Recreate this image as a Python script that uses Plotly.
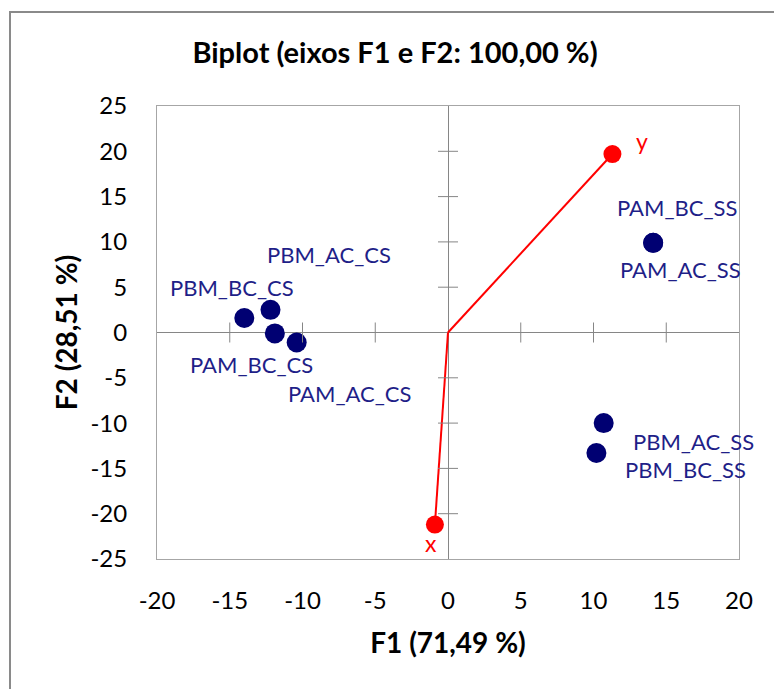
import plotly.graph_objects as go

# Observations (scores on F1/F2)
obs_names = ["PBM_BC_CS", "PBM_AC_CS", "PAM_BC_CS", "PAM_AC_CS",
             "PAM_BC_SS", "PAM_AC_SS", "PBM_AC_SS", "PBM_BC_SS"]
obs_f1 = [-14.0, -12.2, -11.9, -10.4, 14.1, 14.1, 10.7, 10.2]
obs_f2 = [1.6, 2.5, -0.1, -1.1, 9.9, 9.9, -10.0, -13.3]

# Variables (loadings drawn as vectors from the origin)
var_names = ["x", "y"]
var_f1 = [-0.9, 11.3]
var_f2 = [-21.2, 19.7]

x_ticks = [-20, -15, -10, -5, 0, 5, 10, 15, 20]
y_ticks = [-25, -20, -15, -10, -5, 0, 5, 10, 15, 20, 25]

title_text = "Biplot (eixos F1 e F2: 100,00 %)"
x_title = "F1 (71,49 %)"
y_title = "F2 (28,51 %)"

# label offsets in pixels (dx, dy) for each observation / variable label
obs_label_offsets = [(-12, 31), (59, 55), (-23, -31), (53, -51),
                     (24, 35), (27, -27), (90, -18), (89, -16)]
var_label_offsets = [(-4, -18), (30, 13)]

FONT = "Lato"
NAVY = "#000072"
LABEL_NAVY = "#1f1f88"
RED = "#ff0000"
AXIS_GRAY = "#868686"

W, H = 774, 689
ML, MR, MT, MB = 157, 35, 106, 130

fig = go.Figure()

# variable vectors
for i in range(len(var_names)):
    fig.add_trace(go.Scatter(
        x=[0, var_f1[i]], y=[0, var_f2[i]], mode="lines",
        line=dict(color=RED, width=2), hoverinfo="skip", showlegend=False))

fig.add_trace(go.Scatter(
    x=var_f1, y=var_f2, mode="markers", text=var_names,
    marker=dict(color=RED, size=18), showlegend=False))

fig.add_trace(go.Scatter(
    x=obs_f1, y=obs_f2, mode="markers", text=obs_names,
    marker=dict(color=NAVY, size=20), showlegend=False))

annotations = []
for name, fx, fy, (dx, dy) in zip(obs_names, obs_f1, obs_f2, obs_label_offsets):
    annotations.append(dict(
        x=fx, y=fy, xref="x", yref="y", text=name, showarrow=False,
        xshift=dx, yshift=dy, font=dict(family=FONT, size=22, color=LABEL_NAVY)))
for name, fx, fy, (dx, dy) in zip(var_names, var_f1, var_f2, var_label_offsets):
    annotations.append(dict(
        x=fx, y=fy, xref="x", yref="y", text=name, showarrow=False,
        xshift=dx, yshift=dy, font=dict(family=FONT, size=23, color=RED)))

shapes = []
# cross tick marks along the zero axes
for v in x_ticks:
    if v in (0, x_ticks[0], x_ticks[-1]):
        continue
    shapes.append(dict(type="line", xref="x", yref="y", x0=v, x1=v,
                       ysizemode="pixel", yanchor=0, y0=-10, y1=10,
                       line=dict(color=AXIS_GRAY, width=1)))
for v in y_ticks:
    if v in (0, y_ticks[0], y_ticks[-1]):
        continue
    shapes.append(dict(type="line", xref="x", yref="y", y0=v, y1=v,
                       xsizemode="pixel", xanchor=0, x0=-10, x1=10,
                       line=dict(color=AXIS_GRAY, width=1)))

# outer chart frame
pw, ph = W - ML - MR, H - MT - MB
shapes.append(dict(type="rect", xref="paper", yref="paper",
                   x0=(10 - ML) / pw, x1=(W + 20 - ML) / pw,
                   y0=(H - MB - (H + 20)) / ph, y1=(H - MB - 12) / ph,
                   line=dict(color="#8a8a8a", width=2), fillcolor="rgba(0,0,0,0)",
                   layer="below"))

fig.update_layout(
    width=W, height=H,
    margin=dict(l=ML, r=MR, t=MT, b=MB),
    paper_bgcolor="white", plot_bgcolor="white",
    font=dict(family=FONT, color="black"),
    title=dict(text=f"<b>{title_text}</b>", x=395 / W, xanchor="center",
               y=1 - 53 / H, yanchor="middle",
               font=dict(family=FONT, size=29, color="black")),
    annotations=annotations,
    shapes=shapes,
    showlegend=False,
)

fig.update_xaxes(
    range=[x_ticks[0], x_ticks[-1]], tickvals=x_ticks,
    ticktext=[str(v) for v in x_ticks], ticks="", showgrid=False,
    zeroline=True, zerolinecolor=AXIS_GRAY, zerolinewidth=1,
    showline=True, mirror=True, linecolor="#a6a6a6", linewidth=1,
    tickfont=dict(family=FONT, size=24, color="black"),
    ticklabelstandoff=20,
    title=dict(text=f"<b>{x_title}</b>", standoff=20,
               font=dict(family=FONT, size=28, color="black")),
)
fig.update_yaxes(
    range=[y_ticks[0], y_ticks[-1]], tickvals=y_ticks,
    ticktext=[str(v) for v in y_ticks], ticks="", showgrid=False,
    zeroline=True, zerolinecolor=AXIS_GRAY, zerolinewidth=1,
    showline=True, mirror=True, linecolor="#a6a6a6", linewidth=1,
    tickfont=dict(family=FONT, size=24, color="black"),
    ticklabelstandoff=24,
    title=dict(text=f"<b>{y_title}</b>", standoff=4,
               font=dict(family=FONT, size=28, color="black")),
)

fig.write_html("out.html")
